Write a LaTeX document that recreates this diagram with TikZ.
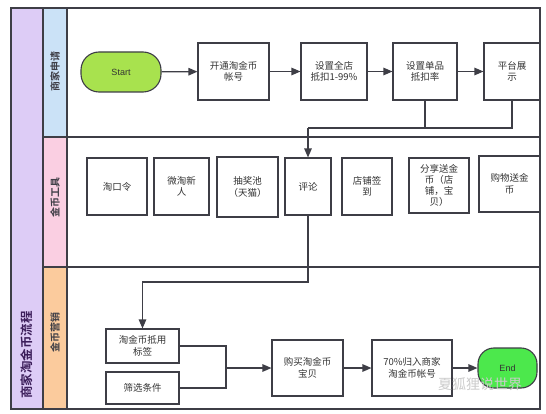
\documentclass[tikz,border=0pt]{standalone}
\usepackage{fontspec}
\setmainfont{Liberation Sans}
\newfontfamily\cjk{Noto Sans CJK SC}
\newfontfamily\cjkb{Noto Sans CJK SC Bold}
\usetikzlibrary{arrows.meta}
\definecolor{lanepurple}{HTML}{DDCCF6}
\definecolor{laneblue}{HTML}{CBE2F7}
\definecolor{lanepink}{HTML}{FACFE2}
\definecolor{laneorange}{HTML}{FBCB9D}
\definecolor{startgreen}{HTML}{A8E24E}
\definecolor{endgreen}{HTML}{4CE84C}
\definecolor{framegray}{HTML}{3E3E46}
\definecolor{txtgray}{HTML}{333333}
\begin{document}
\begin{tikzpicture}[x=1pt,y=-1pt,
  box/.style={draw=framegray,line width=1.1pt,fill=white,inner sep=0pt,
    font=\cjk\fontsize{9.5}{11.5}\selectfont,text=txtgray,align=center},
  term/.style={draw=framegray,line width=1.1pt,rounded corners=12pt,inner sep=0pt,
    font=\fontsize{9}{10}\selectfont,text=txtgray},
  conn/.style={draw=framegray,line width=1.2pt},
  arr/.style={conn,-{Triangle[length=9pt,width=7.5pt]}},
  lanelbl/.style={rotate=90,font=\cjkb\fontsize{10}{10}\selectfont,text=framegray},
]
\useasboundingbox (0,0) rectangle (546,414);
\fill[white] (0,0) rectangle (546,414);
% lanes
\fill[lanepurple] (11,8) rectangle (43,409);
\fill[laneblue] (43,8) rectangle (67,137);
\fill[lanepink] (43,137) rectangle (67,267);
\fill[laneorange] (43,267) rectangle (67,409);
\draw[framegray,line width=1.4pt] (11,8) rectangle (540,409);
\draw[framegray,line width=1.4pt] (43,8) -- (43,409);
\draw[framegray,line width=1.4pt] (67,8) -- (67,409);
\draw[framegray,line width=1.4pt] (43,137) -- (540,137);
\draw[framegray,line width=1.4pt] (43,267) -- (540,267);
\node[rotate=90,font=\cjkb\fontsize{12.5}{12.5}\selectfont,text={rgb,255:red,60;green,30;blue,90}] (title) at (27,355) {商家淘金币流程};
\node[lanelbl] (l1) at (55,72) {商家申请};
\node[lanelbl] (l2) at (55,198) {金币工具};
\node[lanelbl] (l3) at (55,332) {金币营销};
% top lane
\node[term,fill=startgreen,minimum width=80pt,minimum height=40pt,rounded corners=18pt] (start) at (121,72) {Start};
\node[box,minimum width=71pt,minimum height=57pt] (n1) at (233.5,71.5) {开通淘金币\\帐号};
\node[box,minimum width=66pt,minimum height=57pt] (n2) at (334,71.5) {设置全店\\抵扣1-99\%};
\node[box,minimum width=64pt,minimum height=57pt] (n3) at (425,71.5) {设置单品\\抵扣率};
\node[box,minimum width=56pt,minimum height=57pt] (n4) at (512,71.5) {平台展\\示};
% middle lane
\node[box,minimum width=60pt,minimum height=57pt] (m1) at (117,186.5) {淘口令};
\node[box,minimum width=55pt,minimum height=57pt] (m2) at (181.5,186.5) {微淘新\\人};
\node[box,minimum width=61pt,minimum height=60pt] (m3) at (247.5,187) {抽奖池\\（天猫）};
\node[box,minimum width=46pt,minimum height=57pt] (pl) at (308,186.5) {评论};
\node[box,minimum width=50pt,minimum height=57pt] (m5) at (367,186.5) {店铺签\\到};
\node[box,minimum width=60pt,minimum height=55pt,font=\cjk\fontsize{9.5}{10.8}\selectfont] (m6) at (439,185.5) {分享送金\\币（店\\铺，宝\\贝）};
\node[box,minimum width=61pt,minimum height=56pt] (m7) at (509.5,184) {购物送金\\币};
% bottom lane
\node[box,minimum width=73pt,minimum height=34pt] (tag) at (142.5,346) {淘金币抵用\\标签};
\node[box,minimum width=73pt,minimum height=32pt] (sx) at (142.5,388) {筛选条件};
\node[box,minimum width=71pt,minimum height=56pt] (buy) at (307.5,368) {购买淘金币\\宝贝};
\node[box,minimum width=80pt,minimum height=56pt] (gui) at (412,368) {70\%归入商家\\淘金币帐号};
\node[term,fill=endgreen,minimum width=59pt,minimum height=40pt,rounded corners=16pt] (end) at (507.5,368) {End};
% connectors
\draw[arr] (start) -- (n1);
\draw[arr] (n1) -- (n2);
\draw[arr] (n2) -- (n3);
\draw[arr] (n3) -- (n4);
\coordinate (j1) at (308,128);
\draw[conn] (n4.south) |- (j1);
\draw[conn] (n3.south) -- (n3.south |- j1);
\draw[arr] (j1) -- (pl.north);
\coordinate (j2) at (142.5,282);
\draw[arr] (pl.south) |- (j2) -- (tag.north);
\coordinate (j3) at (226,368);
\draw[conn] (tag.east) -| (j3);
\draw[conn] (sx.east) -| (j3);
\draw[arr] (j3) -- (buy.west);
\draw[arr] (buy) -- (gui);
\draw[arr] (gui) -- (end);
% watermark
\node[font=\cjk\fontsize{14}{14}\selectfont,text=black!20] (wm) at (480,384) {夏狐狸说世界};
\end{tikzpicture}
\end{document}
